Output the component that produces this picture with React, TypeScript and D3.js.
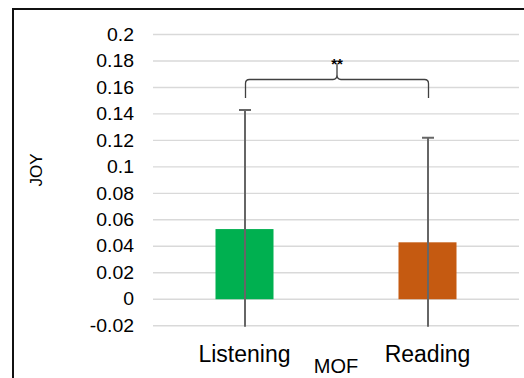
import React from "react";
import * as d3 from "d3";

// Mean JOY score per MOF condition, with the upper error extent
const categories = ["Listening", "Reading"];
const means = [0.053, 0.043];
const errors = [0.09, 0.079];
const barColors = ["#00b050", "#c55a11"];

// Value axis ticks
const tickValues = [-0.02, 0, 0.02, 0.04, 0.06, 0.08, 0.1, 0.12, 0.14, 0.16, 0.18, 0.2];
const tickLabels = ["-0.02", "0", "0.02", "0.04", "0.06", "0.08", "0.1", "0.12", "0.14", "0.16", "0.18", "0.2"];

// Significance bracket between the two conditions
const bracketLevel = 0.166;
const bracketFoot = 0.152;
const bracketTip = 0.178;
const significance = "**";

const W = 524;
const H = 378;
const FONT = "'Liberation Sans', Arial, Helvetica, sans-serif";

export default function App() {
  const y = d3.scaleLinear().domain([-0.02, 0.2]).range([325.7, 34.5]);
  const x = d3.scaleBand<string>().domain(categories).range([153, 519]).padding(0);
  const barW = x.bandwidth() * 0.317;
  const cx = (c: string) => (x(c) as number) + x.bandwidth() / 2;

  const plotTop = y(0.2);
  const plotBottom = y(-0.02);

  // curly bracket
  const xl = cx(categories[0]) + 1;
  const xr = cx(categories[1]) + 1;
  const xm = (xl + xr) / 2;
  const yl = y(bracketLevel);
  const yf = y(bracketFoot);
  const yt = y(bracketTip);
  const r = 4;
  const bracketPath = [
    `M${xl},${yf}`,
    `L${xl},${yl + r}`,
    `Q${xl},${yl} ${xl + r},${yl}`,
    `L${xm - 4},${yl}`,
    `Q${xm},${yl} ${xm},${yl - 5}`,
    `L${xm},${yt}`,
    `M${xm},${yl - 5}`,
    `Q${xm},${yl} ${xm + 4},${yl}`,
    `L${xr - r},${yl}`,
    `Q${xr},${yl} ${xr},${yl + r}`,
    `L${xr},${yf}`,
  ].join(" ");

  return (
    <svg
      width={W}
      height={H}
      style={{ position: "absolute", left: 0, top: 0, background: "#fff" }}
      fontFamily={FONT}
    >
      <defs>
        <clipPath id="plot-clip">
          <rect x={140} y={plotTop - 10} width={400} height={plotBottom - plotTop + 11} />
        </clipPath>
      </defs>

      {/* chart frame */}
      <path d={`M13,${H + 2} L13,9 L${W + 2},9`} fill="none" stroke="#111" strokeWidth={2} />

      {/* gridlines */}
      {tickValues.map((v) => (
        <line
          key={"g" + v}
          x1={153}
          x2={519}
          y1={y(v)}
          y2={y(v)}
          stroke="#d9d9d9"
          strokeWidth={1.4}
        />
      ))}

      {/* tick labels */}
      {tickValues.map((v, i) => (
        <text
          key={"t" + v}
          transform={`translate(134,${y(v) + 6.2}) scale(1.08,1)`}
          textAnchor="end"
          fontSize={18}
          fill="#000"
        >
          {tickLabels[i]}
        </text>
      ))}

      {/* bars */}
      {categories.map((c, i) => (
        <rect
          key={"b" + c}
          x={cx(c) - barW / 2}
          y={y(Math.max(0, means[i]))}
          width={barW}
          height={Math.abs(y(means[i]) - y(0))}
          fill={barColors[i]}
        />
      ))}

      {/* error bars */}
      <g clipPath="url(#plot-clip)">
        {categories.map((c, i) => {
          const xc = cx(c) + 0.5;
          const hi = y(means[i] + errors[i]);
          const lo = y(means[i] - errors[i]);
          return (
            <g key={"e" + c} stroke="#666" strokeWidth={2}>
              <line x1={xc} x2={xc} y1={hi} y2={lo} />
              <line x1={xc - 6} x2={xc + 6} y1={hi} y2={hi} />
              <line x1={xc - 6} x2={xc + 6} y1={lo} y2={lo} />
            </g>
          );
        })}
      </g>

      {/* significance bracket */}
      <path d={bracketPath} fill="none" stroke="#404040" strokeWidth={1.3} />
      <text x={xm} y={yt + 5} textAnchor="middle" fontSize={15} fontWeight="bold" fill="#000">
        {significance}
      </text>

      {/* category labels */}
      {categories.map((c) => (
        <text key={"c" + c} x={cx(c)} y={361.5} textAnchor="middle" fontSize={23} fill="#000">
          {c}
        </text>
      ))}

      {/* axis titles */}
      <text x={336} y={372.5} textAnchor="middle" fontSize={20} fill="#000">
        MOF
      </text>
      <text
        transform={`translate(42,170) rotate(-90)`}
        textAnchor="middle"
        fontSize={17}
        fill="#000"
      >
        JOY
      </text>
    </svg>
  );
}
